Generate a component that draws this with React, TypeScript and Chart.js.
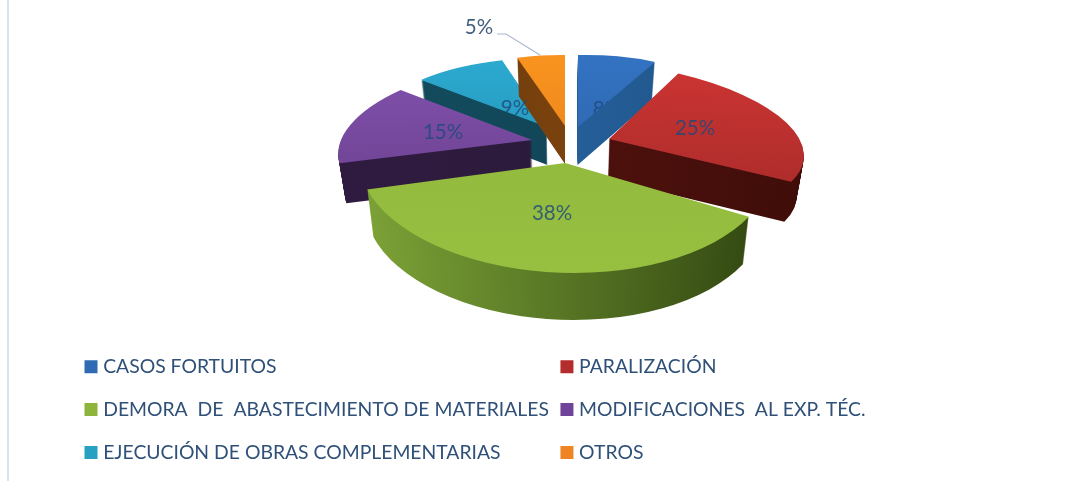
import React, { useEffect, useRef } from "react";
import { Chart, registerables } from "chart.js";

Chart.register(...registerables);

const categories = [
  "CASOS FORTUITOS",
  "PARALIZACIÓN",
  "DEMORA  DE  ABASTECIMIENTO DE MATERIALES",
  "MODIFICACIONES  AL EXP. TÉC.",
  "EJECUCIÓN DE OBRAS COMPLEMENTARIAS",
  "OTROS",
];
const values = [8, 25, 38, 15, 9, 5];
const legendColors = ["#2E6BB4", "#B42C2C", "#8DB53B", "#6F4399", "#27A0C2", "#EE8522"];

// Styling of the 3-D look, per slice
const topShades = [
  ["#3373c2", "#2c62a8"],
  ["#cc3532", "#a52a2a"],
  ["#8fb63a", "#97bf40"],
  ["#8252ad", "#683e8c"],
  ["#2caad1", "#2390b1"],
  ["#fa941f", "#e4801a"],
];
const wallShades = [
  ["#2a68a8", "#1f5488"],
  ["#5a1410", "#3f0d09"],
  ["#7ca237", "#304510"],
  ["#2f1b40", "#2a1a38"],
  ["#134c5e", "#0f4152"],
  ["#6a3a0c", "#8a4a10"],
];
// view projection for each exploded slice: a, b, c, d of the canvas matrix
const projections = [
  [160, -4, 0, 72],
  [193, 6, 27, 78],
  [206, 1, 7, 110],
  [192, -3, -26, 82],
  [170, 4, -8, 69],
  [155, 2, 0, 71],
];
const sliceOrigins = [
  [578, 127],
  [609, 139],
  [565, 163],
  [532, 140],
  [547, 127],
  [565, 126],
];
const wallDepths = [38, 40, 47, 40, 38, 38];
const labelOffsets = [
  [29, -18],
  [86, -11],
  [-13, 50],
  [-89, -8],
  [-32, -19],
  [-86, -99],
];
const outsideLabel = [false, false, false, false, false, true];
const paintOrder = [4, 5, 0, 3, 1, 2];
const AXIS_X = 565;
const WALL_TAPER = 0.03;
const FONT = "Lato, 'Open Sans', sans-serif";

const arcStyle = (fill: any) => ({
  backgroundColor: fill,
  borderColor: fill,
  borderWidth: 0,
  borderAlign: "center",
  borderJoinStyle: "round",
  borderRadius: 0,
  offset: 0,
  spacing: 0,
  circular: true,
});

const pie3d = {
  id: "pie3d",
  afterLayout(chart: any) {
    const lg = chart.legend;
    lg.maxHeight = 170;
    lg.fit();
    lg.left = 65;
    lg.right = 1080;
    lg.top = 333.5;
    lg.bottom = 500;
    if (lg.columnSizes && lg.columnSizes[0]) lg.columnSizes[0].width -= 8;
  },
  beforeDatasetDraw(chart: any) {
    const ctx = chart.ctx;
    const arcs = chart.getDatasetMeta(0).data;
    const place = (i: number, dy: number, taper: number) => {
      const arc = arcs[i];
      const [ox, oy] = sliceOrigins[i];
      const [a, b, c, d] = projections[i];
      const R = arc.outerRadius;
      ctx.translate(AXIS_X, 0);
      ctx.scale(taper, 1);
      ctx.translate(-AXIS_X, 0);
      ctx.translate(ox, oy + dy);
      ctx.transform(a, b, c, d, 0, 0);
      ctx.scale(1 / R, 1 / R);
      ctx.translate(-arc.x, -arc.y);
    };
    for (const i of paintOrder) {
      const arc = arcs[i];
      const R = arc.outerRadius;
      const saved = arc.options;
      const wall = ctx.createLinearGradient(arc.x - R, 0, arc.x + R, 0);
      wall.addColorStop(0, wallShades[i][0]);
      wall.addColorStop(1, wallShades[i][1]);
      arc.options = arcStyle(wall);
      for (let t = wallDepths[i]; t >= 1; t--) {
        ctx.save();
        place(i, t, 1 - (WALL_TAPER * t) / wallDepths[i]);
        arc.draw(ctx);
        ctx.restore();
      }
      const top = ctx.createLinearGradient(0, arc.y - R, 0, arc.y + R);
      top.addColorStop(0, topShades[i][0]);
      top.addColorStop(1, topShades[i][1]);
      arc.options = arcStyle(top);
      ctx.save();
      place(i, 0, 1);
      arc.draw(ctx);
      ctx.restore();
      arc.options = saved;
    }
    // data labels
    ctx.font = `20.5px ${FONT}`;
    ctx.textAlign = "center";
    ctx.textBaseline = "middle";
    for (const i of paintOrder) {
      const arc = arcs[i];
      ctx.save();
      if (!outsideLabel[i]) {
        place(i, 0, 1);
        ctx.beginPath();
        ctx.moveTo(arc.x, arc.y);
        ctx.arc(arc.x, arc.y, arc.outerRadius, arc.startAngle, arc.endAngle);
        ctx.closePath();
        ctx.clip();
        ctx.setTransform(1, 0, 0, 1, 0, 0);
      }
      ctx.fillStyle = outsideLabel[i] ? "#44607f" : "rgba(31,73,125,0.82)";
      const x = sliceOrigins[i][0] + labelOffsets[i][0];
      const y = sliceOrigins[i][1] + labelOffsets[i][1];
      ctx.fillText(`${values[i]}%`, x, y);
      ctx.restore();
    }
    // leader line of the outside label
    ctx.save();
    ctx.strokeStyle = "#a9b7d2";
    ctx.lineWidth = 1.2;
    ctx.beginPath();
    ctx.moveTo(497, 34);
    ctx.lineTo(506, 34);
    ctx.lineTo(540, 55);
    ctx.stroke();
    ctx.restore();
    return false;
  },
};

export default function App() {
  const ref = useRef<HTMLCanvasElement>(null);
  useEffect(() => {
    const chart = new Chart(ref.current as any, {
      type: "pie",
      data: {
        labels: categories,
        datasets: [{ data: values, backgroundColor: legendColors, borderWidth: 0 }],
      },
      options: {
        responsive: false,
        animation: false,
        layout: { padding: 0 },
        plugins: {
          tooltip: { enabled: false },
          legend: {
            position: "left",
            align: "start",
            labels: {
              usePointStyle: true,
              pointStyle: "rect",
              boxWidth: 5,
              boxHeight: 13,
              padding: 23.5,
              color: "#2f5078",
              font: { family: FONT, size: 19.35 },
              sort: (a: any, b: any) => a.index % 2 - b.index % 2 || a.index - b.index,
            },
          },
        },
      } as any,
      plugins: [pie3d as any],
    });
    return () => chart.destroy();
  }, []);
  return (
    <div style={{ position: "fixed", left: 0, top: 0, width: 1091, height: 481, background: "#fff" }}>
      <div style={{ position: "absolute", left: 7, top: 0, width: 2, height: 481, background: "#d6e4f1" }} />
      <canvas
        ref={ref}
        width={1091}
        height={481}
        style={{ position: "absolute", left: 0, top: 0, display: "block", filter: "blur(0.5px)" }}
      />
    </div>
  );
}
